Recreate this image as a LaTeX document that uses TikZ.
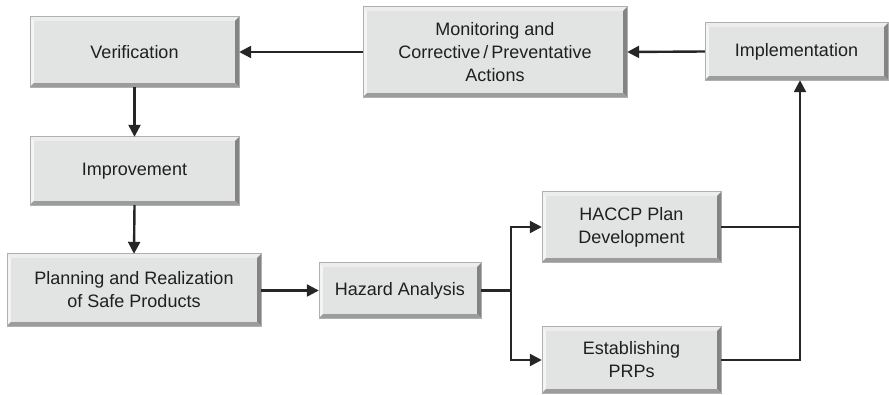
\documentclass[tikz,border=0pt]{standalone}
\usepackage{fontspec}
\setmainfont{Liberation Sans}
\usetikzlibrary{arrows.meta}
\definecolor{face}{HTML}{E2E3E3}
\definecolor{bevlight}{HTML}{F4F4F4}
\definecolor{bevtop}{HTML}{EDEDED}
\definecolor{bevright}{HTML}{848484}
\definecolor{bevbottom}{HTML}{9C9C9C}
\definecolor{edge}{HTML}{B0B0B0}
\newcommand\bevel[1]{%
  \fill[bevtop] (#1.north west) -- (#1.north east) -- ([shift={(-4,4)}]#1.north east) -- ([shift={(4,4)}]#1.north west) -- cycle;
  \fill[bevlight] (#1.north west) -- ([shift={(4,4)}]#1.north west) -- ([shift={(4,-4)}]#1.south west) -- (#1.south west) -- cycle;
  \fill[bevright] (#1.north east) -- (#1.south east) -- ([shift={(-4,-4)}]#1.south east) -- ([shift={(-4,4)}]#1.north east) -- cycle;
  \fill[bevbottom] (#1.south west) -- (#1.south east) -- ([shift={(-4,-4)}]#1.south east) -- ([shift={(4,-4)}]#1.south west) -- cycle;
  \draw[edge, line width=0.6pt] (#1.north west) rectangle (#1.south east);
}
\begin{document}
\begin{tikzpicture}[x=1pt,y=-1pt,
  box/.style={fill=face, inner sep=0pt, align=center, font=\fontsize{18}{23}\selectfont, text=black!88},
  conn/.style={line width=2.4pt, draw=black!85},
  arr/.style={conn, -{Triangle[length=12pt,width=12pt]}}]
\useasboundingbox (0,0) rectangle (889,395);
\node[box, minimum width=209, minimum height=70] (ver) at (134.5,52) {};
\node[box, minimum width=264, minimum height=90] (mon) at (495,52) {};
\node[box, minimum width=183, minimum height=57] (imp) at (796.5,51.5) {};
\node[box, minimum width=209, minimum height=68] (imprv) at (134.5,171) {};
\node[box, minimum width=254, minimum height=72] (plan) at (134,290) {};
\node[box, minimum width=162, minimum height=55] (haz) at (400,290.5) {};
\node[box, minimum width=179, minimum height=70] (hac) at (631.5,227) {};
\node[box, minimum width=179, minimum height=66] (est) at (631.5,360) {};
\foreach \n in {ver,mon,imp,imprv,plan,haz,hac,est} {\bevel{\n}}
\node[box, fill=none] (tver) at (ver) {Verification};
\node[box, fill=none] (tmon) at (mon) {Monitoring and\\Corrective\,/\,Preventative\\Actions};
\node[box, fill=none] (timp) at (imp) {Implementation};
\node[box, fill=none] (timprv) at (imprv) {Improvement};
\node[box, fill=none] (tplan) at (plan) {Planning and Realization\\of Safe Products};
\node[box, fill=none] (thaz) at (haz) {Hazard Analysis};
\node[box, fill=none] (thac) at (hac) {HACCP Plan\\Development};
\node[box, fill=none] (test) at (est) {Establishing\\PRPs};
\coordinate (br) at (511,290.5);
\coordinate (rt) at (800,227);
\draw[arr] (imp.west) -- (mon.east);
\draw[arr] (mon.west) -- (ver.east);
\draw[arr] (ver.south) -- (imprv.north);
\draw[arr] (imprv.south) -- (plan.north);
\draw[arr] (plan.east |- haz.west) -- (haz.west);
\draw[conn] (haz.east) -- (br);
\draw[arr] (br) |- (hac.west);
\draw[arr] (br) |- (est.west);
\draw[conn] (hac.east) -- (rt);
\draw[arr] (est.east) -| ([xshift=3.5]imp.south);
\end{tikzpicture}
\end{document}
